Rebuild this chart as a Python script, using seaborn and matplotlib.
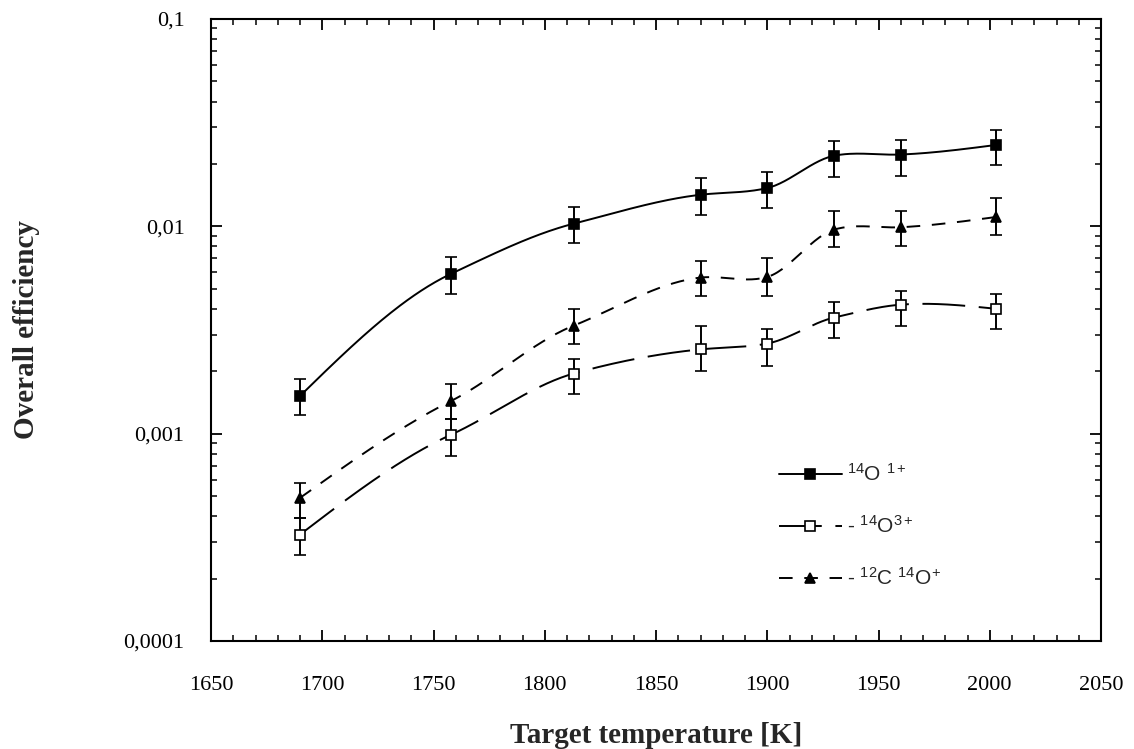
import numpy as np
import pandas as pd
import matplotlib
matplotlib.use("Agg")
import matplotlib.pyplot as plt
import seaborn as sns
from matplotlib.lines import Line2D
from matplotlib.ticker import MultipleLocator, LogLocator, FuncFormatter, NullFormatter

sns.set_style("ticks")
plt.rcParams["font.family"] = ["Liberation Serif", "DejaVu Serif"]
plt.rcParams["mathtext.fontset"] = "custom"
plt.rcParams["mathtext.rm"] = "Liberation Sans"
plt.rcParams["mathtext.it"] = "Liberation Sans:italic"

# ------------------------------------------------------------
# Data
# ------------------------------------------------------------
temperature = [1690, 1758, 1813, 1870, 1900, 1930, 1960, 2003]

o14_1p = [0.00152, 0.00591, 0.0103, 0.0142, 0.0153, 0.0219, 0.0222, 0.0247]
o14_1p_lo = [0.00123, 0.00473, 0.0083, 0.0114, 0.0123, 0.0173, 0.0175, 0.0198]
o14_1p_hi = [0.00183, 0.00708, 0.0124, 0.0171, 0.0183, 0.0258, 0.0262, 0.0292]

o14_3p = [0.000326, 0.00099, 0.00195, 0.00255, 0.00272, 0.00363, 0.00419, 0.0040]
o14_3p_lo = [0.00026, 0.00078, 0.00156, 0.0020, 0.00213, 0.0029, 0.0033, 0.0032]
o14_3p_hi = [0.00039, 0.00118, 0.0023, 0.0033, 0.00318, 0.0043, 0.0049, 0.0047]

c12o14_p = [0.00049, 0.00144, 0.00332, 0.00566, 0.0057, 0.00964, 0.0099, 0.0111]
c12o14_p_lo = [0.00039, 0.00118, 0.00272, 0.0046, 0.0046, 0.00792, 0.0080, 0.0091]
c12o14_p_hi = [0.00058, 0.00173, 0.0040, 0.0068, 0.0070, 0.0119, 0.0119, 0.0137]

labels = [r"$^{14}$O $^{1+}$", r"- $^{14}$O$^{3+}$", r"- $^{12}$C $^{14}$O$^{+}$"]


# ------------------------------------------------------------
# Smooth display curve (cubic Hermite through the points, log space)
# ------------------------------------------------------------
def smooth_curve(x, y, n=300, k=0.8):
    x = np.asarray(x, float)
    ly = np.log10(np.asarray(y, float))
    h = np.diff(x)
    d = np.diff(ly) / h
    m = np.empty_like(ly)
    # three-point (parabola) slopes inside, damped a bit
    m[1:-1] = k * (h[1:] * d[:-1] + h[:-1] * d[1:]) / (h[:-1] + h[1:])
    m[0] = 0.5 * (3 * d[0] - m[1])
    m[-1] = 0.5 * (3 * d[-1] - m[-2])
    xs = np.linspace(x[0], x[-1], n)
    idx = np.clip(np.searchsorted(x, xs) - 1, 0, len(x) - 2)
    t = (xs - x[idx]) / h[idx]
    h00 = 2 * t**3 - 3 * t**2 + 1
    h10 = t**3 - 2 * t**2 + t
    h01 = -2 * t**3 + 3 * t**2
    h11 = t**3 - t**2
    ys = h00 * ly[idx] + h10 * h[idx] * m[idx] + h01 * ly[idx + 1] + h11 * h[idx] * m[idx + 1]
    return xs, 10 ** ys


series = [
    (o14_1p, o14_1p_lo, o14_1p_hi, "s", "black", "-"),
    (o14_3p, o14_3p_lo, o14_3p_hi, "s", "white", (0, (22, 7))),
    (c12o14_p, c12o14_p_lo, c12o14_p_hi, "^", "black", (0, (7, 6))),
]

fig = plt.figure(figsize=(11.34, 7.49), dpi=100)
ax = fig.add_axes([211 / 1134, 1 - 641 / 749, (1101 - 211) / 1134, (641 - 19) / 749])

handles = []
for (vals, lo, hi, mk, face, ls), lab in zip(series, labels):
    xs, ys = smooth_curve(temperature, vals)
    curve = pd.DataFrame({"T": xs, "eff": ys})
    sns.lineplot(data=curve, x="T", y="eff", ax=ax, color="black", lw=1.4,
                 linestyle=ls, estimator=None, sort=False)
    vals_a = np.array(vals)
    yerr = [vals_a - np.array(lo), np.array(hi) - vals_a]
    ax.errorbar(temperature, vals, yerr=yerr, fmt=mk, ms=7.5, mfc=face, mec="black",
                mew=1.2, ecolor="black", elinewidth=1.4, capsize=4.5, capthick=1.4, zorder=3)
    handles.append(Line2D([], [], color="black", lw=1.4, linestyle=ls, marker=mk,
                          ms=7.5, mfc=face, mec="black", mew=1.2, label=lab))

ax.set_yscale("log")
ax.set_xlim(1650, 2050)
ax.set_ylim(1e-4, 1e-1)
ax.xaxis.set_major_locator(MultipleLocator(50))
ax.xaxis.set_minor_locator(MultipleLocator(10))
ax.yaxis.set_major_locator(LogLocator(base=10))
ax.yaxis.set_minor_locator(LogLocator(base=10, subs=np.arange(2, 10)))
ax.yaxis.set_minor_formatter(NullFormatter())
ax.yaxis.set_major_formatter(FuncFormatter(lambda v, p: f"{v:g}".replace(".", ",")))

ax.tick_params(which="both", direction="in", top=True, right=True, colors="black")
ax.tick_params(which="major", length=8, width=1.3, labelsize=16)
ax.tick_params(which="minor", length=4, width=1.1)
ax.tick_params(axis="x", which="major", pad=25)
ax.tick_params(axis="y", which="major", pad=19)
for sp in ax.spines.values():
    sp.set_linewidth(1.5)
    sp.set_color("black")

ax.set_xlabel("Target temperature [K]", fontsize=21, fontweight="bold")
ax.set_ylabel("Overall efficiency", fontsize=21, fontweight="bold")
ax.xaxis.set_label_coords(656 / 1134, 1 - 722 / 749, transform=fig.transFigure)
ax.yaxis.set_label_coords(40 / 1134, 1 - 330 / 749, transform=fig.transFigure)

leg = ax.legend(handles=handles, loc="upper left", bbox_to_anchor=(779 / 1134, 1 - 463 / 749),
                bbox_transform=fig.transFigure, frameon=False, borderpad=0, borderaxespad=0,
                handlelength=3.0, handletextpad=0.25, labelspacing=1.45,
                prop={"family": "Liberation Sans", "size": 15})

fig.savefig("out.png", dpi=100)
